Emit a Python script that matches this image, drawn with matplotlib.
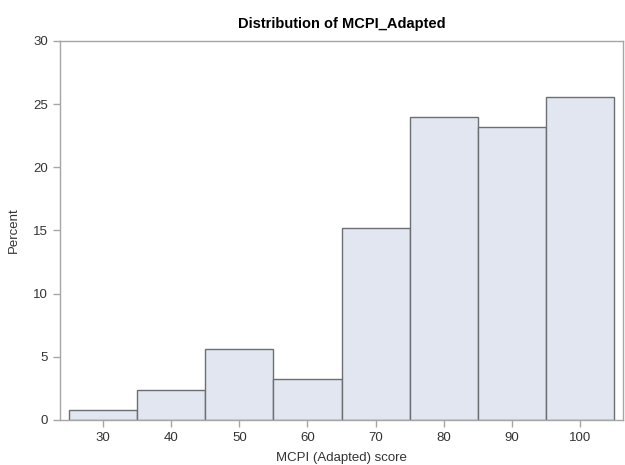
import matplotlib.pyplot as plt

plt.rcParams['font.family'] = ['Liberation Sans', 'DejaVu Sans']

# histogram bins (midpoints) and percent per bin
midpoints = [30, 40, 50, 60, 70, 80, 90, 100]
percent = [0.8, 2.4, 5.6, 3.2, 15.2, 24.0, 23.2, 25.6]
bin_width = 10

fig = plt.figure(figsize=(6.25, 4.65), dpi=100)
ax = fig.add_axes([0.096, 0.097, 0.901, 0.815])

ax.bar(midpoints, percent, width=bin_width, color='#e1e6f0',
       edgecolor='#6b6e73', linewidth=1.0, zorder=2)

ax.set_xlim(23.7, 106.3)
ax.set_ylim(0, 30)
ax.set_xticks(midpoints)
ax.set_yticks([0, 5, 10, 15, 20, 25, 30])

for s in ax.spines.values():
    s.set_color('#a6a6a6')
    s.set_linewidth(1.0)
ax.tick_params(colors='#a6a6a6', labelcolor='#333333', labelsize=9.5, length=5, width=1)

ax.set_title('Distribution of MCPI_Adapted', fontsize=10.5, fontweight='bold', pad=9)
ax.set_xlabel('MCPI (Adapted) score', fontsize=9.5, color='#333333', labelpad=6)
ax.set_ylabel('Percent', fontsize=9.5, color='#333333', labelpad=10)

fig.savefig('out.png', dpi=100)
